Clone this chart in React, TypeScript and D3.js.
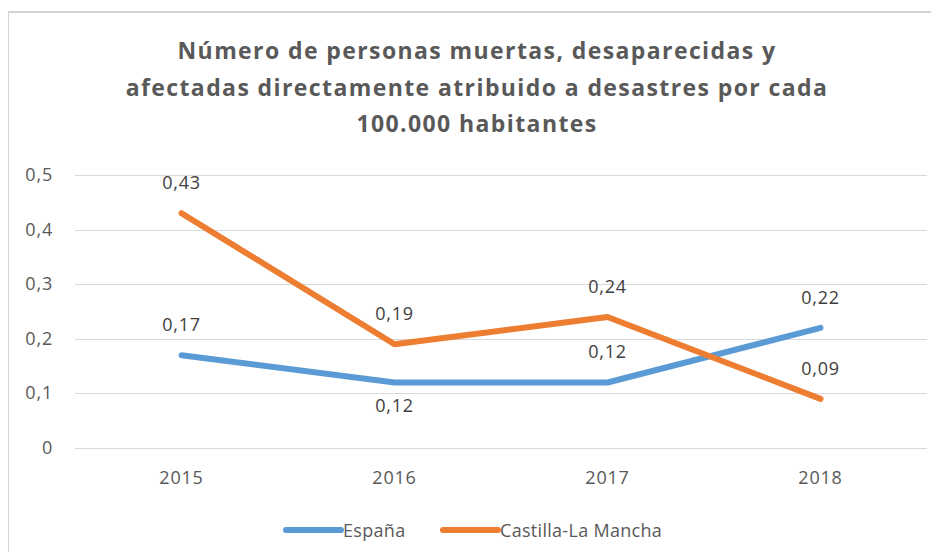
import React, { useEffect, useRef } from 'react'
import * as d3 from 'd3'

const years = ['2015', '2016', '2017', '2018']
const espana = [0.17, 0.12, 0.12, 0.22]
const castilla = [0.43, 0.19, 0.24, 0.09]
const seriesNames = ['España', 'Castilla-La Mancha']
const yTicks = [0, 0.1, 0.2, 0.3, 0.4, 0.5]
const titleLines = [
  'Número de personas muertas, desaparecidas y',
  'afectadas directamente atribuido a desastres por cada',
  '100.000 habitantes'
]
// where each data label sits relative to its point
const espanaLabelPos = ['above', 'below', 'above', 'above']
const castillaLabelPos = ['above', 'above', 'above', 'above']

const colors = ['#5B9BD5', '#ED7D31']
const font = "'Open Sans', sans-serif"

const width = 939
const height = 560

const fmt = (v: number) => (v === 0 ? '0' : String(v).replace('.', ','))

const drawChart = (el: SVGSVGElement) => {
  const svg = d3.select(el)
  svg.selectAll('*').remove()

  // frame
  svg
    .append('rect')
    .attr('x', 8)
    .attr('y', 12)
    .attr('width', 940)
    .attr('height', 543)
    .attr('fill', '#fff')
    .attr('stroke', '#d4d4d4')
    .attr('stroke-width', 2)

  // title
  svg
    .append('g')
    .selectAll('text')
    .data(titleLines)
    .enter()
    .append('text')
    .text((d) => d)
    .attr('x', 477)
    .attr('y', (d, i) => 59 + i * 36.5)
    .attr('text-anchor', 'middle')
    .attr('font-family', font)
    .attr('font-weight', 'bold')
    .attr('font-size', 23)
    .attr('letter-spacing', 1.4)
    .attr('fill', '#595959')

  const x = d3.scaleBand().domain(years).range([75, 927])
  const y = d3.scaleLinear().domain([0, 0.5]).range([448, 175])
  const cx = (d: string) => (x(d) as number) + x.bandwidth() / 2

  // gridlines
  svg
    .append('g')
    .attr('stroke', '#d9d9d9')
    .attr('stroke-width', 1)
    .selectAll('line')
    .data(yTicks)
    .enter()
    .append('line')
    .attr('x1', 75)
    .attr('x2', 927)
    .attr('y1', (d) => Math.round(y(d)) + 0.5)
    .attr('y2', (d) => Math.round(y(d)) + 0.5)

  // y tick labels
  svg
    .append('g')
    .selectAll('text')
    .data(yTicks)
    .enter()
    .append('text')
    .text((d) => fmt(d))
    .attr('x', 53)
    .attr('y', (d) => y(d) + 6)
    .attr('text-anchor', 'end')
    .attr('font-family', font)
    .attr('font-size', 18)
    .attr('letter-spacing', 0.8)
    .attr('fill', '#595959')

  // x tick labels
  svg
    .append('g')
    .selectAll('text')
    .data(years)
    .enter()
    .append('text')
    .text((d) => d)
    .attr('x', (d) => cx(d))
    .attr('y', 484)
    .attr('text-anchor', 'middle')
    .attr('font-family', font)
    .attr('font-size', 18)
    .attr('letter-spacing', 0.8)
    .attr('fill', '#595959')

  const line = d3
    .line<number>()
    .x((d, i) => cx(years[i]))
    .y((d) => y(d))

  const series = [
    { values: espana, pos: espanaLabelPos },
    { values: castilla, pos: castillaLabelPos }
  ]

  series.forEach((s, si) => {
    svg
      .append('path')
      .datum(s.values)
      .attr('d', line)
      .attr('fill', 'none')
      .attr('stroke', colors[si])
      .attr('stroke-width', 6)
      .attr('stroke-linecap', 'round')
      .attr('stroke-linejoin', 'round')
  })

  series.forEach((s) => {
    svg
      .append('g')
      .selectAll('text')
      .data(s.values)
      .enter()
      .append('text')
      .text((d) => fmt(d))
      .attr('x', (d, i) => cx(years[i]))
      .attr('y', (d, i) => (s.pos[i] === 'above' ? y(d) - 24 : y(d) + 30))
      .attr('text-anchor', 'middle')
      .attr('font-family', font)
      .attr('font-size', 18)
      .attr('letter-spacing', 0.8)
      .attr('fill', '#404040')
  })

  // legend
  const legendX = [286, 443]
  const legend = svg
    .append('g')
    .selectAll('g')
    .data(seriesNames)
    .enter()
    .append('g')

  legend
    .append('line')
    .attr('x1', (d, i) => legendX[i])
    .attr('x2', (d, i) => legendX[i] + 55)
    .attr('y1', 530)
    .attr('y2', 530)
    .attr('stroke', (d, i) => colors[i])
    .attr('stroke-width', 6)
    .attr('stroke-linecap', 'round')

  legend
    .append('text')
    .text((d) => d)
    .attr('x', (d, i) => legendX[i] + 57)
    .attr('y', 537)
    .attr('font-family', font)
    .attr('font-size', 18)
    .attr('letter-spacing', 0.3)
    .attr('fill', '#595959')
}

const App = () => {
  const ref = useRef<SVGSVGElement>(null)

  useEffect(() => {
    if (ref.current) drawChart(ref.current)
  }, [])

  return (
    <svg
      ref={ref}
      width={width}
      height={height}
      style={{ display: 'block', margin: -8 }}
    />
  )
}

export default App
